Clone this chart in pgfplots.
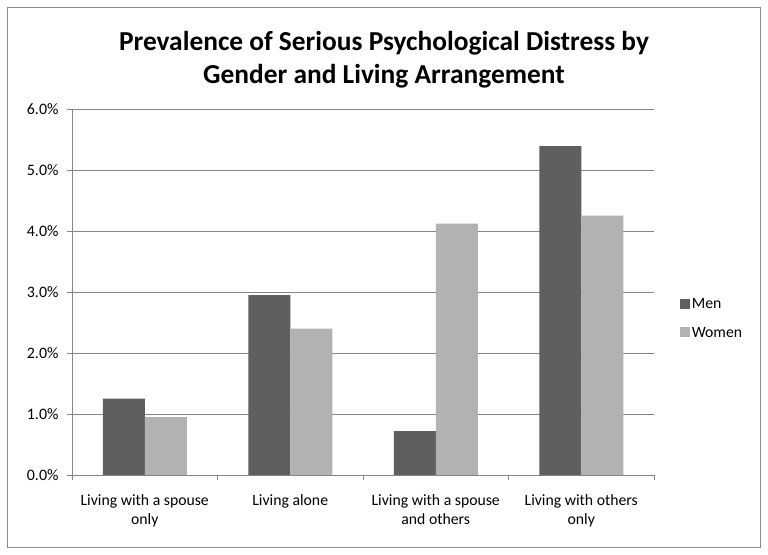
\documentclass[border=0pt]{standalone}
\usepackage{fontspec}
\setmainfont{Carlito}
\usepackage{pgfplots}
\pgfplotsset{compat=1.18}
\definecolor{mencol}{HTML}{5F5F5F}
\definecolor{womencol}{HTML}{B2B2B2}
\definecolor{gridcol}{HTML}{868686}
\definecolor{framecol}{HTML}{8C8C8C}
\begin{document}
\begin{tikzpicture}[x=1bp,y=1bp]
\useasboundingbox (0,0) rectangle (768,555);
\fill[white] (0,0) rectangle (768,555);
\draw[framecol, line width=1.3bp] (7.5,7.5) rectangle (760.5,547.5);
\node[font=\fontsize{27.5}{33}\selectfont\bfseries, align=center] at (384,495) {Prevalence of Serious Psychological Distress by\\Gender and Living Arrangement};
\begin{axis}[
  at={(72bp,80bp)}, anchor=south west,
  scale only axis, width=582bp, height=366bp,
  xmin=-0.5, xmax=3.5, ymin=0, ymax=6,
  ybar=0pt, bar width=42bp,
  axis x line*=bottom, axis y line*=left,
  axis line style={gridcol, line width=0.9bp, -},
  xtick={0,1,2,3},
  xticklabels={{Living with a spouse\\only},{Living alone},{Living with a spouse\\and others},{Living with others\\only}},
  xticklabel style={align=center, font=\fontsize{15.8}{19}\selectfont, yshift=-11bp},
  major x tick style={draw=none},
  minor xtick={-0.5,0.5,1.5,2.5,3.5},
  minor x tick style={gridcol, line width=0.9bp},
  minor tick length=5bp,
  ytick={0,1,2,3,4,5,6},
  yticklabel={\pgfmathprintnumber[fixed,fixed zerofill,precision=1]{\tick}\%},
  yticklabel style={font=\fontsize{16}{19}\selectfont, xshift=-5bp},
  /pgf/number format/assume math mode=true,
  major tick length=5bp, tick align=outside,
  major y tick style={gridcol, line width=0.9bp},
  ymajorgrids, major grid style={gridcol, line width=0.9bp},
  legend style={at={(1.044,0.4276)}, anchor=west, draw=none, fill=none,
     font=\fontsize{15.8}{19}\selectfont, row sep=13bp, inner sep=0pt},
  legend cell align=left,
  legend image code/.code={\fill[#1] (0bp,-4.5bp) rectangle (10bp,5.5bp);},
]
\addplot[fill=mencol, draw=none] coordinates {(0,1.25) (1,2.95) (2,0.72) (3,5.39)};
\addplot[fill=womencol, draw=none] coordinates {(0,0.95) (1,2.40) (2,4.12) (3,4.25)};
\legend{Men,Women}
\end{axis}
\end{tikzpicture}
\end{document}
